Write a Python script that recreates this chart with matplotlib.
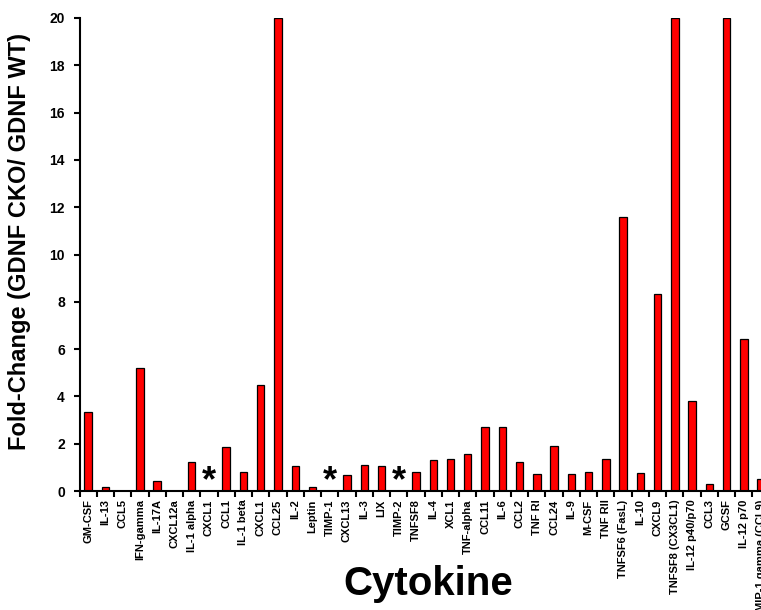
import matplotlib
matplotlib.use('Agg')
import matplotlib.pyplot as plt
import numpy as np

plt.rcParams['font.family'] = ['Liberation Sans', 'DejaVu Sans']

cytokines = [
    "GM-CSF", "IL-13", "CCL5", "IFN-gamma", "IL-17A", "CXCL12a", "IL-1 alpha",
    "CXCL1", "CCL1", "IL-1 beta", "CXCL1", "CCL25", "IL-2", "Leptin", "TIMP-1",
    "CXCL13", "IL-3", "LIX", "TIMP-2", "TNFSF8", "IL-4", "XCL1", "TNF-alpha",
    "CCL11", "IL-6", "CCL2", "TNF RI", "CCL24", "IL-9", "M-CSF", "TNF RII",
    "TNFSF6 (FasL)", "IL-10", "CXCL9", "TNFSF8 (CX3CL1)", "IL-12 p40/p70",
    "CCL3", "GCSF", "IL-12 p70", "MIP-1 gamma (CCL9)",
]
# fold change CKO/WT, values above 20 are capped at the axis limit
fold_change = [
    3.35, 0.18, 0.0, 5.2, 0.43, 0.0, 1.24,
    0.0, 1.87, 0.82, 4.47, 20.0, 1.04, 0.17, 0.0,
    0.69, 1.1, 1.04, 0.0, 0.82, 1.31, 1.34, 1.55,
    2.69, 2.69, 1.21, 0.73, 1.91, 0.73, 0.82, 1.34,
    11.59, 0.75, 8.35, 20.0, 3.82,
    0.28, 20.0, 6.41, 0.49,
]
# positions marked with an asterisk (CXCL1, TIMP-1, TIMP-2)
star_idx = [7, 14, 18]

fig = plt.figure(figsize=(7.61, 6.10), dpi=100)
ax = fig.add_axes([0.1045, 0.195, 0.907, 0.7755])

x = np.arange(len(cytokines))
ax.bar(x, fold_change, width=0.43, color='#ff0000', edgecolor='black', linewidth=0.9)

for i in star_idx:
    ax.text(i, 0.38, '*', ha='center', va='center', fontsize=26, fontweight='bold')

ax.set_xlim(-0.5, len(cytokines) - 0.5)
ax.set_ylim(0, 20)
ax.set_yticks(np.arange(0, 21, 2))
ax.set_xticks(x)
ax.set_xticklabels(cytokines, rotation=90, fontsize=8, fontweight='bold')
ax.set_xticks(np.arange(-0.5, len(cytokines), 1), minor=True)
ax.tick_params(axis='x', which='major', length=0, pad=6)
ax.tick_params(axis='x', which='minor', length=4, width=1.5, direction='out')
ax.tick_params(axis='y', length=4.5, width=1.5, labelsize=10, pad=6)
for lab in ax.get_yticklabels():
    lab.set_fontweight('bold')

ax.spines['top'].set_visible(False)
ax.spines['right'].set_visible(False)
ax.spines['left'].set_linewidth(1.5)
ax.spines['bottom'].set_linewidth(1.5)

ax.set_ylabel('Fold-Change (GDNF CKO/ GDNF WT)', fontsize=17, fontweight='bold')
ax.yaxis.set_label_coords(-0.07, 0.528)
fig.text(0.5625, 0.043, 'Cytokine', ha='center', va='center', fontsize=29, fontweight='bold')

fig.savefig('out.png', dpi=100)
